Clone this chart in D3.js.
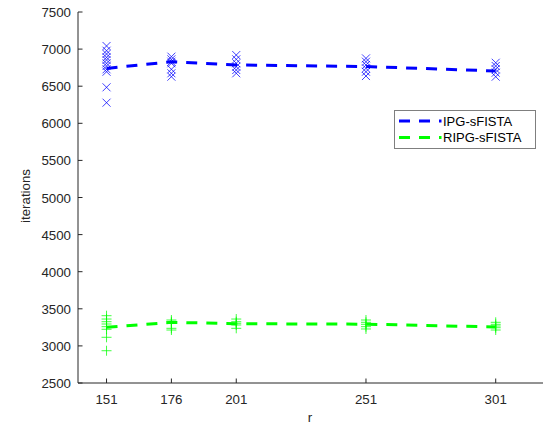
<!DOCTYPE html>
<html>
<head>
<meta charset="utf-8">
<script src="https://cdn.jsdelivr.net/npm/d3@7"></script>
<style>
  body { margin: 0; background: #fff; }
  svg { display: block; font-family: "Liberation Sans", Arial, sans-serif; }
</style>
</head>
<body>
<svg id="chart" width="543" height="425"></svg>
<script>
const rValues = [151, 176, 201, 251, 301];
const yTicks = [2500, 3000, 3500, 4000, 4500, 5000, 5500, 6000, 6500, 7000, 7500];

const ipgMean = [6740, 6830, 6786, 6765, 6705];
const ripgMean = [3250, 3318, 3299, 3293, 3255];

// individual runs per r
const ipgRuns = [
  [7042, 6978, 6934, 6889, 6853, 6809, 6772, 6728, 6695, 6485, 6278],
  [6898, 6862, 6830, 6809, 6728, 6674, 6628],
  [6920, 6862, 6809, 6763, 6718, 6674],
  [6875, 6830, 6786, 6741, 6695, 6637],
  [6816, 6772, 6728, 6682, 6628]
];
const ripgRuns = [
  [3407, 3362, 3326, 3295, 3259, 3224, 3116, 2935],
  [3349, 3326, 3305, 3237, 3214],
  [3362, 3326, 3305, 3282, 3237],
  [3349, 3318, 3291, 3259, 3228],
  [3318, 3291, 3268, 3245, 3214]
];

const seriesNames = ['IPG-sFISTA', 'RIPG-sFISTA'];
const seriesColors = ['#0000ff', '#00ff00'];

const svg = d3.select('#chart');
const axisColor = '#262626';

const x = d3.scaleLinear().domain([140, 320]).range([78, 545]);
const y = d3.scaleLinear().domain([2500, 7500]).range([383, 12]);

// axes lines
svg.append('line')
  .attr('x1', x(140)).attr('x2', x(320))
  .attr('y1', y(2500)).attr('y2', y(2500))
  .attr('stroke', axisColor).attr('stroke-width', 1);
svg.append('line')
  .attr('x1', x(140)).attr('x2', x(140))
  .attr('y1', y(2500)).attr('y2', y(7500))
  .attr('stroke', axisColor).attr('stroke-width', 1);

// y ticks (inward)
const yAxis = svg.append('g');
yAxis.selectAll('line')
  .data(yTicks)
  .join('line')
  .attr('x1', x(140)).attr('x2', x(140) + 4.5)
  .attr('y1', (d) => y(d)).attr('y2', (d) => y(d))
  .attr('stroke', axisColor);
yAxis.selectAll('text')
  .data(yTicks)
  .join('text')
  .attr('x', 71)
  .attr('y', (d) => y(d) + 5)
  .attr('text-anchor', 'end')
  .attr('font-size', 13.3)
  .attr('fill', axisColor)
  .text((d) => d);

// x ticks (inward)
const xAxis = svg.append('g');
xAxis.selectAll('line')
  .data(rValues)
  .join('line')
  .attr('x1', (d) => x(d)).attr('x2', (d) => x(d))
  .attr('y1', y(2500)).attr('y2', y(2500) - 4.5)
  .attr('stroke', axisColor);
xAxis.selectAll('text')
  .data(rValues)
  .join('text')
  .attr('x', (d) => x(d))
  .attr('y', 404)
  .attr('text-anchor', 'middle')
  .attr('font-size', 13.3)
  .attr('fill', axisColor)
  .text((d) => d);

// axis labels
svg.append('text')
  .attr('x', 310).attr('y', 422)
  .attr('text-anchor', 'middle')
  .attr('font-size', 13.3)
  .attr('fill', axisColor)
  .text('r');
svg.append('text')
  .attr('transform', 'translate(30,196) rotate(-90)')
  .attr('text-anchor', 'middle')
  .attr('font-size', 13.3)
  .attr('fill', axisColor)
  .text('iterations');

// markers
const crossPath = (cx, cy, s) => `M${cx - s},${cy - s}L${cx + s},${cy + s}M${cx + s},${cy - s}L${cx - s},${cy + s}`;
const plusPath = (cx, cy, s) => `M${cx - s},${cy}L${cx + s},${cy}M${cx},${cy - s}L${cx},${cy + s}`;

const flat = (runs) => runs.flatMap((vals, i) => vals.map((v) => ({ r: rValues[i], v })));

svg.append('g')
  .selectAll('path')
  .data(flat(ipgRuns))
  .join('path')
  .attr('d', (d) => crossPath(x(d.r), y(d.v), 4))
  .attr('stroke', seriesColors[0])
  .attr('stroke-opacity', 0.75)
  .attr('stroke-width', 1)
  .attr('fill', 'none');

svg.append('g')
  .selectAll('path')
  .data(flat(ripgRuns))
  .join('path')
  .attr('d', (d) => plusPath(x(d.r), y(d.v), 5))
  .attr('stroke', seriesColors[1])
  .attr('stroke-opacity', 0.75)
  .attr('stroke-width', 1)
  .attr('fill', 'none');

// mean lines
const line = d3.line()
  .x((d, i) => x(rValues[i]))
  .y((d) => y(d));

[ipgMean, ripgMean].forEach((s, i) => {
  svg.append('path')
    .datum(s)
    .attr('d', line)
    .attr('fill', 'none')
    .attr('stroke', seriesColors[i])
    .attr('stroke-width', 3)
    .attr('stroke-dasharray', '11,9');
});

// legend
const legend = svg.append('g').attr('transform', 'translate(394,110)');
legend.append('rect')
  .attr('x', 0.5).attr('y', 0.5)
  .attr('width', 141).attr('height', 38)
  .attr('fill', '#fff')
  .attr('stroke', '#7f7f7f');
seriesNames.forEach((name, i) => {
  const ly = 11 + i * 16.5;
  legend.append('line')
    .attr('x1', 5).attr('x2', 47.5)
    .attr('y1', ly).attr('y2', ly)
    .attr('stroke', seriesColors[i])
    .attr('stroke-width', 3)
    .attr('stroke-dasharray', '11,9');
  legend.append('text')
    .attr('x', 49)
    .attr('y', ly + 4.5)
    .attr('font-size', 13)
    .attr('fill', '#000')
    .text(name);
});
</script>
</body>
</html>
